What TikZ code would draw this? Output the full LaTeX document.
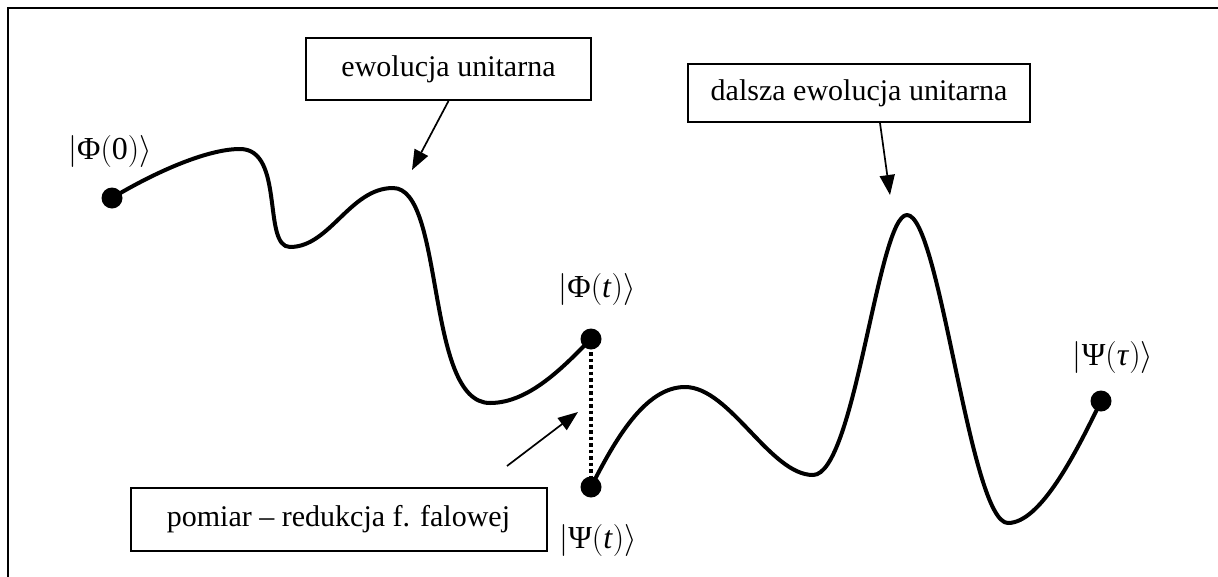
\RequirePackage{fix-cm}
\documentclass[tikz,border=0pt]{standalone}
\usepackage{fontspec}
\setmainfont{Liberation Serif}
\usetikzlibrary{arrows.meta}
\begin{document}
\begin{tikzpicture}[x=1pt,y=-1pt,
  lbl/.style={draw, line width=2pt, font=\fontsize{30}{34}\selectfont, inner sep=0pt, anchor=center},
  ket/.style={font=\fontsize{32}{37}\selectfont, inner sep=0pt},
  dot/.style={circle, fill=black, inner sep=0pt, minimum size=21pt},
  wave/.style={line width=4pt, line cap=round, line join=round},
  ptr/.style={line width=1.7pt, -{Triangle[length=20pt,width=15pt]}}]
\useasboundingbox (0,0) rectangle (1218,576);
\clip (0,0) rectangle (1218,576);
\draw[line width=2.5pt] (8,8) rectangle (1260,620);

\node[lbl, minimum width=285pt, minimum height=62pt] (b1) at (448.5,69) {ewolucja unitarna};
\node[lbl, minimum width=342pt, minimum height=58pt] (b2) at (859,93) {dalsza ewolucja unitarna};
\node[lbl, minimum width=416pt, minimum height=63pt] (b3) at (338.5,519) {pomiar – redukcja f. falowej};

\node[ket] (k0) at (110,151) {$\bigl|$Φ$\bigl($0$\bigr)\bigr\rangle$};
\node[ket] (kt) at (597,289) {$\bigl|$Φ$\bigl($\textit{t}$\bigr)\bigr\rangle$};
\node[ket] (kpt) at (598,540) {$\bigl|$Ψ$\bigl($\textit{t}$\bigr)\bigr\rangle$};
\node[ket] (kptau) at (1113,357) {$\bigl|$Ψ$\bigl($\textit{τ}$\bigr)\bigr\rangle$};

\node[dot] (p0) at (112,198) {};
\node[dot] (pt) at (591,339) {};
\node[dot] (qt) at (591,487) {};
\node[dot] (qtau) at (1101,401) {};

\draw[wave] (p0.center) .. controls (150,175) and (205,149) .. (240,149)
  .. controls (285,149) and (262,247) .. (290,247)
  .. controls (330,247) and (350,188) .. (393,188)
  .. controls (445,188) and (425,403) .. (490,403)
  .. controls (530,403) and (565,365) .. (pt.center);
\draw[wave] (qt.center) .. controls (615,440) and (645,387) .. (685,387)
  .. controls (730,387) and (770,475) .. (813,475)
  .. controls (855,475) and (878,215) .. (907,215)
  .. controls (940,215) and (970,523) .. (1008,523)
  .. controls (1040,523) and (1075,455) .. (qtau.center);

\draw[line width=3.5pt, dash pattern=on 3.5pt off 3pt] (pt.center) -- (qt.center);

\coordinate (t1) at (412,170);
\coordinate (t2) at (890,195);
\coordinate (t3) at (578,412);
\coordinate (s3) at (507,466);
\draw[ptr] (b1.south) -- (t1);
\draw[ptr] ([xshift=21pt]b2.south) -- (t2);
\draw[ptr] (s3) -- (t3);
\end{tikzpicture}
\end{document}
